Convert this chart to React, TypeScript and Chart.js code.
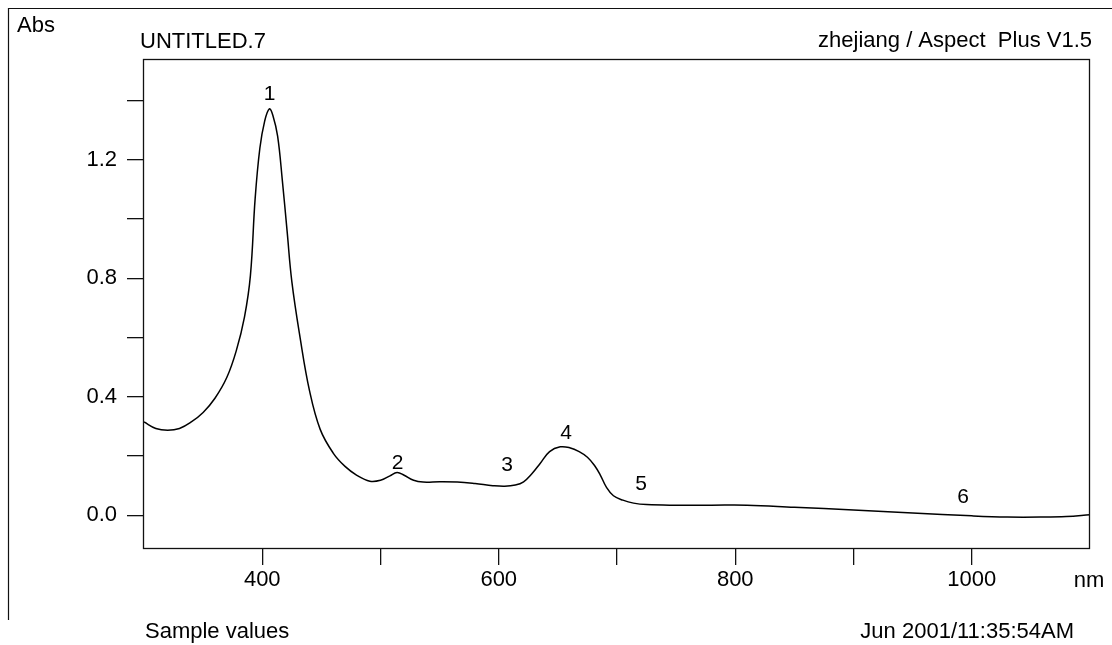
import React, { useEffect, useRef } from 'react';
import { Chart, registerables } from 'chart.js';

Chart.register(...registerables);

// Wavelength (nm) and absorbance
const wavelengths = [
  300, 310, 320, 330, 340, 350, 360, 370, 378, 385, 390, 394, 398, 402, 406, 409, 413, 417, 421, 425,
  432, 440, 449, 460, 470, 480, 491, 500, 508, 514, 520, 528, 536, 550, 565, 580, 595, 605, 614, 621,
  628, 635, 643, 652, 660, 668, 675, 681, 686, 691, 697, 705, 714, 725, 750, 780, 810, 850, 900, 950,
  1000, 1030, 1060, 1080, 1100,
];
const absorbance = [
  0.315, 0.293, 0.287, 0.293, 0.315, 0.347, 0.395, 0.465, 0.555, 0.67, 0.81, 1.07, 1.24, 1.33, 1.372, 1.35, 1.28, 1.13, 0.96, 0.79,
  0.6, 0.42, 0.29, 0.21, 0.165, 0.135, 0.115, 0.118, 0.133, 0.144, 0.135, 0.118, 0.112, 0.113, 0.112, 0.107, 0.1, 0.098, 0.102, 0.113,
  0.14, 0.175, 0.215, 0.231, 0.228, 0.215, 0.196, 0.168, 0.135, 0.095, 0.066, 0.051, 0.041, 0.036, 0.034, 0.034, 0.034, 0.027, 0.018, 0.008,
  -0.002, -0.006, -0.006, -0.004, 0.002,
];

// Axis ticks
const xTickValues = [400, 500, 600, 700, 800, 900, 1000];
const xTickLabels = [400, 600, 800, 1000];
const yTickValues = [0.0, 0.2, 0.4, 0.6, 0.8, 1.0, 1.2, 1.4];
const yTickLabels = [0.0, 0.4, 0.8, 1.2];

// Peak markers
const peakNumbers = ['1', '2', '3', '4', '5', '6'];
const peakLabelX = [406.3, 514.5, 607, 657, 720.3, 992.6];
const peakLabelY = [1.402, 0.155, 0.15, 0.257, 0.0845, 0.0416];

// Header / footer texts
const yAxisTitle = 'Abs';
const xAxisUnit = 'nm';
const titleLeft = 'UNTITLED.7';
const titleRight = 'zhejiang / Aspect  Plus V1.5';
const footerLeft = 'Sample values';
const footerRight = 'Jun 2001/11:35:54AM';

const FONT = '"Liberation Sans", Arial, sans-serif';
const INK = '#000';

const decorPlugin = {
  id: 'decor',
  afterDraw(chart: any) {
    const ctx = chart.ctx;
    const { left, top, right, bottom } = chart.chartArea;
    const xs = chart.scales.x;
    const ys = chart.scales.y;
    ctx.save();
    // outer frame
    ctx.strokeStyle = '#111';
    ctx.lineWidth = 1.2;
    ctx.beginPath();
    ctx.moveTo(8.5, 620);
    ctx.lineTo(8.5, 8.5);
    ctx.lineTo(1112, 8.5);
    ctx.stroke();
    // plot box
    ctx.strokeStyle = '#111';
    ctx.lineWidth = 1.3;
    ctx.strokeRect(Math.round(left) - 0.5, Math.round(top) + 0.5, Math.round(right - left), Math.round(bottom - top));
    // texts
    ctx.fillStyle = INK;
    ctx.font = `22px ${FONT}`;
    ctx.textBaseline = 'alphabetic';
    ctx.textAlign = 'left';
    ctx.fillText(yAxisTitle, 17, 32);
    ctx.fillText(titleLeft, 140, 48);
    ctx.fillText(footerLeft, 145, 638);
    ctx.textAlign = 'right';
    ctx.fillText(titleRight, 1092, 47);
    ctx.fillText(footerRight, 1074, 638);
    ctx.textAlign = 'center';
    ctx.fillText(xAxisUnit, 1089, 587);
    // peak labels
    ctx.font = `21px ${FONT}`;
    for (let i = 0; i < peakNumbers.length; i++) {
      ctx.fillText(peakNumbers[i], xs.getPixelForValue(peakLabelX[i]), ys.getPixelForValue(peakLabelY[i]));
    }
    ctx.restore();
  },
};

export default function App() {
  const ref = useRef<HTMLCanvasElement | null>(null);
  useEffect(() => {
    if (!ref.current) return;
    const chart = new Chart(ref.current, {
      type: 'line',
      data: {
        datasets: [
          {
            data: wavelengths.map((x, i) => ({ x, y: absorbance[i] })),
            borderColor: INK,
            borderWidth: 1.5,
            pointRadius: 0,
            fill: false,
            tension: 0.4,
          },
        ],
      },
      options: {
        responsive: false,
        animation: false,
        devicePixelRatio: 1,
        layout: { padding: { top: 59, right: 22, left: 0, bottom: 0 } },
        plugins: { legend: { display: false }, tooltip: { enabled: false } },
        scales: {
          x: {
            type: 'linear',
            position: 'bottom',
            min: 300,
            max: 1100,
            afterBuildTicks: (s: any) => {
              s.ticks = xTickValues.map((v) => ({ value: v }));
            },
            afterFit: (s: any) => {
              s.height = 97;
            },
            ticks: {
              autoSkip: false,
              maxRotation: 0,
              padding: 2,
              color: INK,
              font: { size: 22, family: FONT },
              callback: (v: any) => (xTickLabels.includes(Number(v)) ? String(v) : ''),
            },
            grid: { drawOnChartArea: false, drawTicks: true, tickLength: 17, color: '#111', lineWidth: 1.3 },
            border: { display: false },
          },
          y: {
            type: 'linear',
            min: -0.1105,
            max: 1.5405,
            afterBuildTicks: (s: any) => {
              s.ticks = yTickValues.map((v) => ({ value: v }));
            },
            afterFit: (s: any) => {
              s.width = 144;
            },
            ticks: {
              autoSkip: false,
              padding: 10,
              color: INK,
              font: { size: 22, family: FONT },
              callback: (v: any) =>
                yTickLabels.some((t) => Math.abs(t - Number(v)) < 1e-6) ? Number(v).toFixed(1) : '',
            },
            grid: { drawOnChartArea: false, drawTicks: true, tickLength: 17, color: '#111', lineWidth: 1.3 },
            border: { display: false },
          },
        },
      },
      plugins: [decorPlugin],
    } as any);
    return () => chart.destroy();
  }, []);
  return (
    <div style={{ position: 'fixed', left: 0, top: 0, width: 1112, height: 645, background: '#fff' }}>
      <canvas ref={ref} width={1112} height={645} style={{ display: 'block' }} />
    </div>
  );
}
